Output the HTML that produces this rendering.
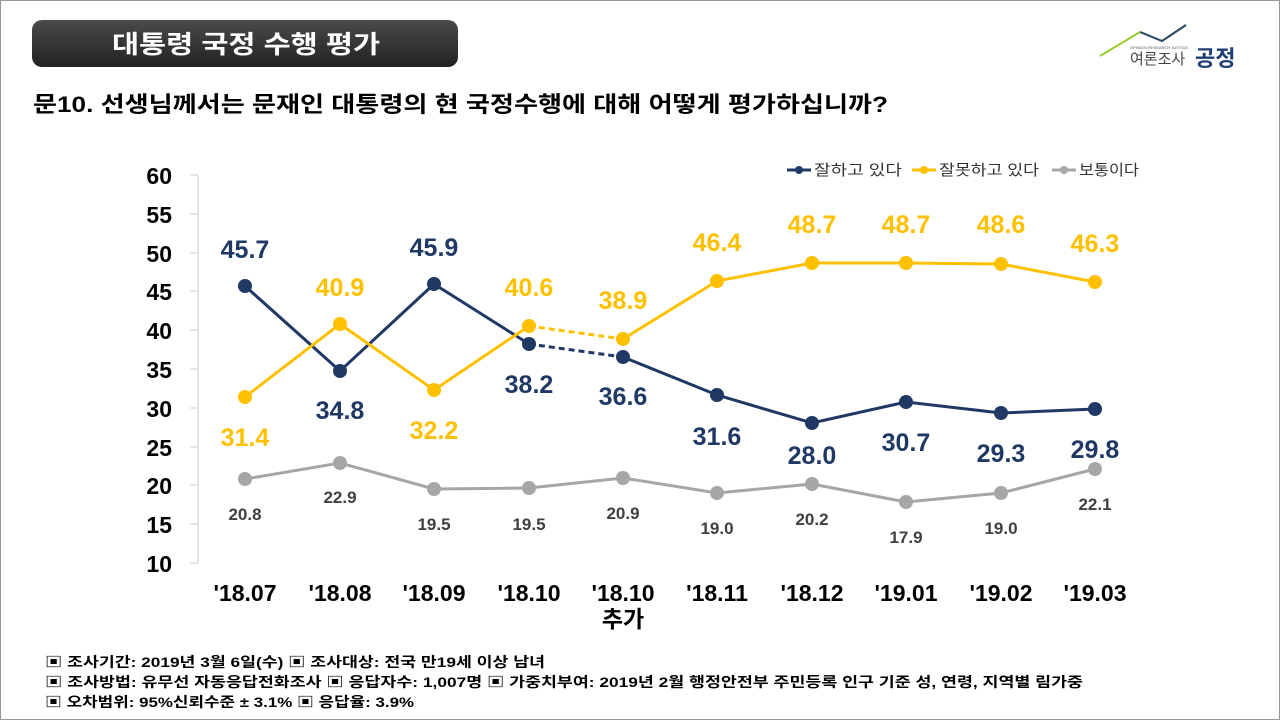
<!DOCTYPE html><html><head><meta charset="utf-8"><style>
body{margin:0;width:1280px;height:720px;background:#fff;font-family:"Liberation Sans","Noto Sans CJK KR",sans-serif;overflow:hidden;position:relative}
.frame{position:absolute;left:0;top:0;width:1278px;height:718px;border:1px solid #999}
</style></head><body><div class="frame"></div>
<svg width="1280" height="720" style="position:absolute;left:0;top:0" font-family="Liberation Sans, Noto Sans CJK KR, sans-serif">
<defs><linearGradient id="g" x1="0" y1="0" x2="0" y2="1"><stop offset="0" stop-color="#4a4a4a"/><stop offset="1" stop-color="#222"/></linearGradient></defs>
<rect x="32" y="20" width="426" height="47" rx="10" fill="url(#g)"/>
<text x="112" y="53" textLength="268" lengthAdjust="spacingAndGlyphs" fill="#fff" font-size="25" font-weight="bold">대통령 국정 수행 평가</text>
<polyline points="1100,56 1140,32 1162,41 1186,25" fill="none" stroke="#9acd32" stroke-width="2"/>
<polyline points="1140,32 1162,41 1186,25" fill="none" stroke="#2d4a6e" stroke-width="2"/>
<text x="1130" y="49" font-size="4" fill="#555">OPINION RESEARCH JUSTICE</text>
<text x="1130" y="64" font-size="15" fill="#444">여론조사</text>
<text x="1195" y="66" font-size="22" font-weight="bold" fill="#1f3e73">공정</text>
<text x="33" y="112" textLength="855" lengthAdjust="spacingAndGlyphs" font-size="22" font-weight="bold" fill="#000">문10. 선생님께서는 문재인 대통령의 현 국정수행에 대해 어떻게 평가하십니까?</text>
<g stroke="#ccc" stroke-width="1">
<line x1="198" y1="175" x2="198" y2="563"/>
<line x1="190" y1="175" x2="198" y2="175"/><line x1="190" y1="214" x2="198" y2="214"/><line x1="190" y1="253" x2="198" y2="253"/><line x1="190" y1="291" x2="198" y2="291"/><line x1="190" y1="330" x2="198" y2="330"/><line x1="190" y1="369" x2="198" y2="369"/><line x1="190" y1="408" x2="198" y2="408"/><line x1="190" y1="447" x2="198" y2="447"/><line x1="190" y1="485" x2="198" y2="485"/><line x1="190" y1="524" x2="198" y2="524"/><line x1="190" y1="563" x2="198" y2="563"/>
</g>
<g font-size="23" font-weight="bold" fill="#000" text-anchor="end">
<text x="172" y="184">60</text><text x="172" y="223">55</text><text x="172" y="262">50</text><text x="172" y="300">45</text><text x="172" y="339">40</text><text x="172" y="378">35</text><text x="172" y="417">30</text><text x="172" y="456">25</text><text x="172" y="494">20</text><text x="172" y="533">15</text><text x="172" y="572">10</text>
</g>
<g font-size="23" font-weight="bold" fill="#000" text-anchor="middle">
<text x="245" y="601">'18.07</text><text x="340" y="601">'18.08</text><text x="434" y="601">'18.09</text><text x="529" y="601">'18.10</text><text x="623" y="601">'18.10</text><text x="623" y="627">추가</text><text x="717" y="601">'18.11</text><text x="812" y="601">'18.12</text><text x="906" y="601">'19.01</text><text x="1001" y="601">'19.02</text><text x="1095" y="601">'19.03</text>
</g>
<polyline points="245,479 340,463 434,489 529,488 623,478 717,493 812,484 906,502 1001,493 1095,469" fill="none" stroke="#a6a6a6" stroke-width="3"/>
<g fill="#a6a6a6"><circle cx="245" cy="479" r="7"/><circle cx="340" cy="463" r="7"/><circle cx="434" cy="489" r="7"/><circle cx="529" cy="488" r="7"/><circle cx="623" cy="478" r="7"/><circle cx="717" cy="493" r="7"/><circle cx="812" cy="484" r="7"/><circle cx="906" cy="502" r="7"/><circle cx="1001" cy="493" r="7"/><circle cx="1095" cy="469" r="7"/></g>
<g font-size="17" font-weight="bold" fill="#404040" text-anchor="middle">
<text x="245" y="520">20.8</text><text x="340" y="503">22.9</text><text x="434" y="530">19.5</text><text x="529" y="530">19.5</text><text x="623" y="519">20.9</text><text x="717" y="534">19.0</text><text x="812" y="525">20.2</text><text x="906" y="543">17.9</text><text x="1001" y="534">19.0</text><text x="1095" y="510">22.1</text>
</g>
<polyline points="245,286 340,371 434,284 529,344" fill="none" stroke="#1f3864" stroke-width="3"/>
<line x1="529" y1="344" x2="623" y2="357" stroke="#1f3864" stroke-width="3" stroke-dasharray="6,4"/>
<polyline points="623,357 717,395 812,423 906,402 1001,413 1095,409" fill="none" stroke="#1f3864" stroke-width="3"/>
<g fill="#1f3864"><circle cx="245" cy="286" r="7"/><circle cx="340" cy="371" r="7"/><circle cx="434" cy="284" r="7"/><circle cx="529" cy="344" r="7"/><circle cx="623" cy="357" r="7"/><circle cx="717" cy="395" r="7"/><circle cx="812" cy="423" r="7"/><circle cx="906" cy="402" r="7"/><circle cx="1001" cy="413" r="7"/><circle cx="1095" cy="409" r="7"/></g>
<g font-size="25" font-weight="bold" fill="#1f3864" text-anchor="middle">
<text x="245" y="258">45.7</text><text x="340" y="419">34.8</text><text x="434" y="256">45.9</text><text x="529" y="393">38.2</text><text x="623" y="405">36.6</text><text x="717" y="445">31.6</text><text x="812" y="464">28.0</text><text x="906" y="451">30.7</text><text x="1001" y="462">29.3</text><text x="1095" y="458">29.8</text>
</g>
<polyline points="245,397 340,324 434,390 529,326" fill="none" stroke="#ffc000" stroke-width="3"/>
<line x1="529" y1="326" x2="623" y2="339" stroke="#ffc000" stroke-width="3" stroke-dasharray="6,4"/>
<polyline points="623,339 717,281 812,263 906,263 1001,264 1095,282" fill="none" stroke="#ffc000" stroke-width="3"/>
<g fill="#ffc000"><circle cx="245" cy="397" r="7"/><circle cx="340" cy="324" r="7"/><circle cx="434" cy="390" r="7"/><circle cx="529" cy="326" r="7"/><circle cx="623" cy="339" r="7"/><circle cx="717" cy="281" r="7"/><circle cx="812" cy="263" r="7"/><circle cx="906" cy="263" r="7"/><circle cx="1001" cy="264" r="7"/><circle cx="1095" cy="282" r="7"/></g>
<g font-size="25" font-weight="bold" fill="#ffc000" text-anchor="middle">
<text x="245" y="446">31.4</text><text x="340" y="296">40.9</text><text x="434" y="439">32.2</text><text x="529" y="296">40.6</text><text x="623" y="309">38.9</text><text x="717" y="251">46.4</text><text x="812" y="233">48.7</text><text x="906" y="233">48.7</text><text x="1001" y="233">48.6</text><text x="1095" y="252">46.3</text>
</g>
<g font-size="15" fill="#333">
<line x1="787" y1="170" x2="811" y2="170" stroke="#1f3864" stroke-width="3"/><circle cx="799" cy="170" r="4" fill="#1f3864"/><text x="814" y="175" textLength="88" lengthAdjust="spacingAndGlyphs">잘하고 있다</text>
<line x1="912" y1="170" x2="936" y2="170" stroke="#ffc000" stroke-width="3"/><circle cx="924" cy="170" r="4" fill="#ffc000"/><text x="939" y="175" textLength="100" lengthAdjust="spacingAndGlyphs">잘못하고 있다</text>
<line x1="1052" y1="170" x2="1076" y2="170" stroke="#a6a6a6" stroke-width="3"/><circle cx="1064" cy="170" r="4" fill="#a6a6a6"/><text x="1079" y="175" textLength="60" lengthAdjust="spacingAndGlyphs">보통이다</text>
</g>
<g font-size="14" font-weight="bold" fill="#000">
<text x="45" y="667" textLength="500" lengthAdjust="spacingAndGlyphs">▣ 조사기간: 2019년 3월 6일(수) ▣ 조사대상: 전국 만19세 이상 남녀</text>
<text x="45" y="687" textLength="1038" lengthAdjust="spacingAndGlyphs">▣ 조사방법: 유무선 자동응답전화조사 ▣ 응답자수: 1,007명 ▣ 가중치부여: 2019년 2월 행정안전부 주민등록 인구 기준 성, 연령, 지역별 림가중</text>
<text x="45" y="707" textLength="369" lengthAdjust="spacingAndGlyphs">▣ 오차범위: 95%신뢰수준 ± 3.1% ▣ 응답율: 3.9%</text>
</g>
</svg></body></html>
